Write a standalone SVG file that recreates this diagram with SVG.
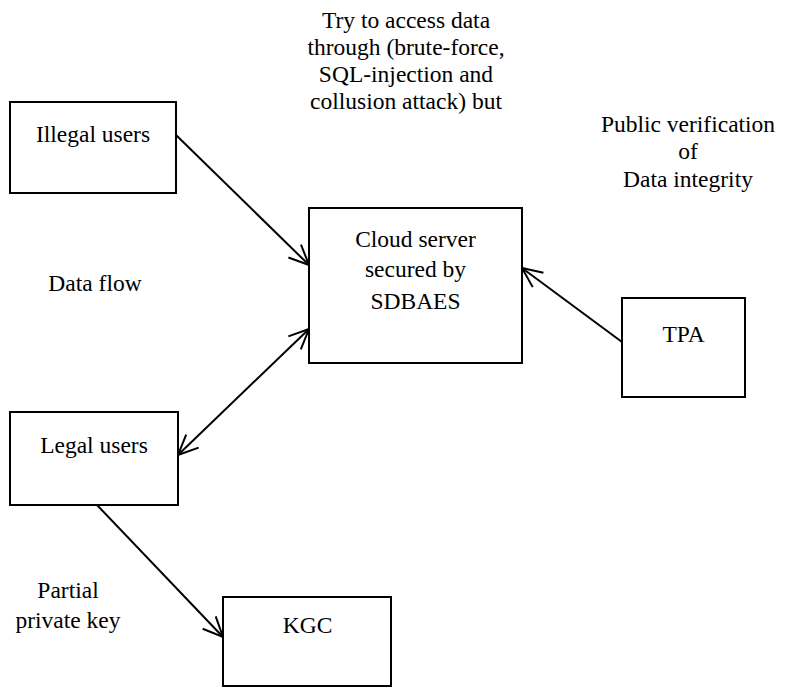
<svg xmlns="http://www.w3.org/2000/svg" width="790" height="687" viewBox="0 0 790 687">
  <style>
    .box { fill: #ffffff; stroke: #000000; stroke-width: 2; }
    .lbl { font-family: "Liberation Serif", "Times New Roman", serif; font-size: 23.5px; fill: #000000; text-anchor: middle; }
    .edge { fill: none; stroke: #000000; stroke-width: 2; }
  </style>
  <defs>
    <!-- open "V" arrowhead shared by all connectors -->
    <marker id="open" viewBox="0 0 22 22" refX="21" refY="11" markerWidth="22" markerHeight="22" markerUnits="userSpaceOnUse" orient="auto-start-reverse">
      <path d="M1,2 L21,11 L1,20" fill="none" stroke="#000000" stroke-width="2"/>
    </marker>
  </defs>
  <rect width="790" height="687" fill="#ffffff"/>

  <!-- free-standing notes -->
  <g id="attack-note">
    <text class="lbl" x="406" y="28">Try to access data</text>
    <text class="lbl" x="406" y="55">through (brute-force,</text>
    <text class="lbl" x="406" y="82">SQL-injection and</text>
    <text class="lbl" x="406" y="109">collusion attack) but</text>
  </g>
  <g id="verify-note">
    <text class="lbl" x="688" y="132">Public verification</text>
    <text class="lbl" x="688" y="159">of</text>
    <text class="lbl" x="688" y="187">Data integrity</text>
  </g>
  <g id="dataflow-note">
    <text class="lbl" x="95" y="291">Data flow</text>
  </g>
  <g id="key-note">
    <text class="lbl" x="68" y="598">Partial</text>
    <text class="lbl" x="68" y="628">private key</text>
  </g>

  <!-- nodes -->
  <g id="illegal-users">
    <rect class="box" x="10" y="102" width="166" height="91"/>
    <text class="lbl" x="93" y="142">Illegal users</text>
  </g>
  <g id="cloud-server">
    <rect class="box" x="309" y="208" width="213" height="155"/>
    <text class="lbl" x="415.5" y="247">Cloud server</text>
    <text class="lbl" x="415.5" y="277">secured by</text>
    <text class="lbl" x="415.5" y="309">SDBAES</text>
  </g>
  <g id="tpa">
    <rect class="box" x="622" y="298" width="123" height="99"/>
    <text class="lbl" x="683.5" y="342">TPA</text>
  </g>
  <g id="legal-users">
    <rect class="box" x="10" y="412" width="168" height="93"/>
    <text class="lbl" x="94" y="453">Legal users</text>
  </g>
  <g id="kgc">
    <rect class="box" x="223" y="597" width="168" height="89"/>
    <text class="lbl" x="307.5" y="633">KGC</text>
  </g>

  <!-- connectors -->
  <g id="connectors">
    <line class="edge" x1="176" y1="135" x2="309" y2="265" marker-end="url(#open)"/>
    <line class="edge" x1="178" y1="455" x2="309" y2="329" marker-start="url(#open)" marker-end="url(#open)"/>
    <line class="edge" x1="97" y1="505" x2="223" y2="637" marker-end="url(#open)"/>
    <line class="edge" x1="622" y1="342" x2="522" y2="268" marker-end="url(#open)"/>
  </g>
</svg>
